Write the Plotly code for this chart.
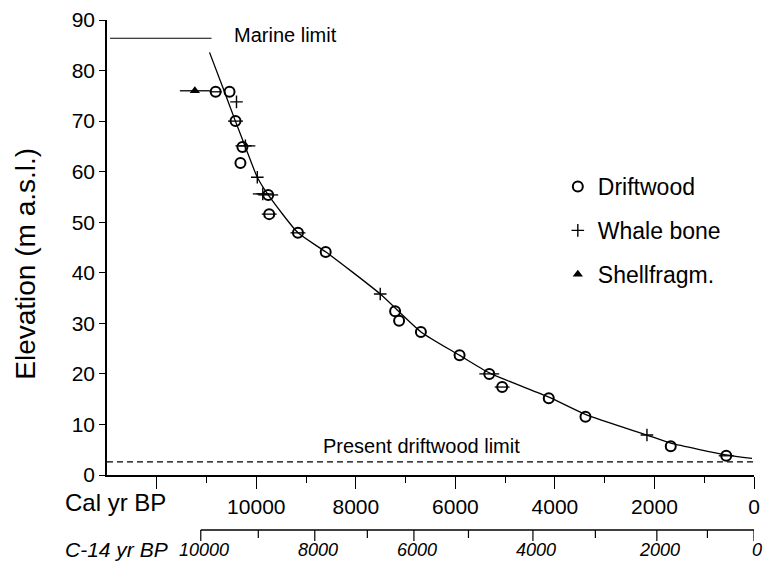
import plotly.graph_objects as go

# ---------------- data ----------------
drift_cal = [10817, 10538, 10418, 10279, 10319, 9761, 9741, 9163, 8606, 7211, 7131, 6693, 5916, 5319, 5060, 4124, 3386, 1673, 558]
drift_elev = [75.8, 75.8, 70.0, 64.9, 61.7, 55.4, 51.6, 47.9, 44.1, 32.4, 30.5, 28.3, 23.7, 20.0, 17.4, 15.2, 11.5, 5.7, 3.8]
drift_err = [120, 0, 150, 0, 0, 200, 150, 150, 0, 0, 0, 0, 0, 200, 150, 0, 0, 0, 150]

whale_cal = [10398, 10219, 9980, 9870, 7510, 2151]
whale_elev = [73.8, 65.1, 58.9, 55.6, 35.8, 7.9]
whale_err = [0, 200, 0, 200, 0, 0]

shell_cal = [11235]
shell_elev = [76.0]
shell_err = [300]

curve_cal = [10940, 10640, 10420, 10220, 9980, 9760, 9160, 8600, 7510, 6690, 5920, 5320, 4120, 3390, 2150, 1670, 560, 40]
curve_elev = [83.6, 75.8, 70.0, 64.9, 58.9, 55.4, 47.9, 44.1, 35.8, 28.3, 23.7, 20.2, 15.4, 12.0, 7.9, 6.3, 4.0, 3.3]

marine_limit_cal = [12940, 10900]
marine_limit_elev = 86.4
driftwood_limit_cal = [13000, 0]
driftwood_limit_elev = 2.6

cal_major = [12000, 10000, 8000, 6000, 4000, 2000, 0]
cal_major_text = ["", "10000", "8000", "6000", "4000", "2000", "0"]
cal_minor = [11000, 9000, 7000, 5000, 3000, 1000]
elev_ticks = [0, 10, 20, 30, 40, 50, 60, 70, 80, 90]

c14_vals = [10000, 9000, 8000, 7000, 6000, 5000, 4000, 3000, 2000, 1000, 0]
c14_at_cal = [11116, 9960, 8825, 7769, 6833, 5737, 4442, 3187, 1952, 936, 0]
c14_labelled = [10000, 8000, 6000, 4000, 2000, 0]

FONT = "Liberation Sans, Arial, Helvetica, sans-serif"

fig = go.Figure()

fig.add_trace(go.Scatter(x=curve_cal, y=curve_elev, mode="lines",
                         line=dict(color="black", width=1.3, shape="spline", smoothing=0.6),
                         showlegend=False, hoverinfo="skip"))
fig.add_trace(go.Scatter(x=marine_limit_cal, y=[marine_limit_elev] * 2, mode="lines",
                         line=dict(color="black", width=1.1), showlegend=False, hoverinfo="skip"))
fig.add_trace(go.Scatter(x=driftwood_limit_cal, y=[driftwood_limit_elev] * 2, mode="lines",
                         line=dict(color="black", width=1.1, dash="6px,4px"), showlegend=False, hoverinfo="skip"))

fig.add_trace(go.Scatter(x=drift_cal, y=drift_elev, mode="markers", name="Driftwood", legendgroup="a",
                         marker=dict(symbol="circle-open", size=10, color="black", line=dict(width=2, color="black")),
                         error_x=dict(type="data", array=drift_err, color="black", thickness=1.3, width=0)))
fig.add_trace(go.Scatter(x=whale_cal, y=whale_elev, mode="markers", name="Whale bone", legendgroup="b",
                         marker=dict(symbol="cross-thin-open", size=9, color="black", line=dict(width=1.4, color="black")),
                         error_x=dict(type="data", array=whale_err, color="black", thickness=1.3, width=0)))
fig.add_trace(go.Scatter(x=shell_cal, y=shell_elev, mode="markers", name="Shellfragm.", legendgroup="c",
                         marker=dict(symbol="triangle-up", size=9, color="black"),
                         error_x=dict(type="data", array=shell_err, color="black", thickness=1.3, width=0)))

# ---------------- C-14 secondary scale (drawn in cal-axis data coordinates) ----------------
H_PLOT = 455.0
c14_line_y = -55 / H_PLOT
shapes = [dict(type="line", xref="x", yref="paper", x0=c14_at_cal[0], x1=c14_at_cal[-1],
               y0=c14_line_y, y1=c14_line_y, line=dict(color="black", width=1.4))]
annotations = []
for v, c in zip(c14_vals, c14_at_cal):
    ln = 11 if v in c14_labelled else 8
    shapes.append(dict(type="line", xref="x", yref="paper", x0=c, x1=c,
                       y0=c14_line_y, y1=c14_line_y - ln / H_PLOT, line=dict(color="black", width=1.2)))
    if v in c14_labelled:
        annotations.append(dict(xref="x", yref="paper", x=c, y=-75 / H_PLOT, text="<i>%d</i>" % v,
                                showarrow=False, xanchor="center", yanchor="middle", xshift=3,
                                font=dict(size=18, color="black", family=FONT)))

annotations += [
    dict(xref="paper", yref="paper", x=-44 / 653, y=-27 / H_PLOT, text="Cal yr BP", showarrow=False,
         xanchor="left", yanchor="middle", font=dict(size=24, color="black", family=FONT)),
    dict(xref="paper", yref="paper", x=-44 / 653, y=-74 / H_PLOT, text="<i>C-14 yr BP</i>", showarrow=False,
         xanchor="left", yanchor="middle", font=dict(size=21, color="black", family=FONT)),
    dict(xref="paper", yref="paper", x=-83 / 653, y=211 / H_PLOT, text="Elevation (m a.s.l.)", showarrow=False,
         textangle=-90, xanchor="center", yanchor="middle", font=dict(size=28, color="black", family=FONT)),
    dict(xref="paper", yref="paper", x=126 / 653, y=440 / H_PLOT, text="Marine limit", showarrow=False,
         xanchor="left", yanchor="middle", font=dict(size=20, color="black", family=FONT)),
    dict(xref="paper", yref="paper", x=216 / 653, y=29 / H_PLOT, text="Present driftwood limit", showarrow=False,
         xanchor="left", yanchor="middle", font=dict(size=20, color="black", family=FONT)),
]

fig.update_layout(
    width=766, height=564,
    margin=dict(l=107, r=6, t=20, b=89),
    paper_bgcolor="white", plot_bgcolor="white",
    font=dict(family=FONT, color="black"),
    shapes=shapes, annotations=annotations,
    legend=dict(x=455 / 653, xanchor="left", y=310 / H_PLOT, yanchor="top",
                font=dict(size=23, color="black", family=FONT), tracegroupgap=11,
                bgcolor="rgba(0,0,0,0)", traceorder="grouped"),
    xaxis=dict(range=[13000, 0], showline=True, linecolor="black", linewidth=1.5,
               ticks="outside", ticklen=12, tickwidth=1.3, tickcolor="black",
               tickvals=cal_major, ticktext=cal_major_text, tickfont=dict(size=21),
               minor=dict(tickvals=cal_minor, ticks="outside", ticklen=6, tickwidth=1.2, tickcolor="black", showgrid=False),
               showgrid=False, zeroline=False),
    yaxis=dict(range=[0, 90], showline=True, linecolor="black", linewidth=1.5,
               ticks="outside", ticklen=6, tickwidth=1.3, tickcolor="black",
               tickvals=elev_ticks, tickfont=dict(size=21),
               showgrid=False, zeroline=False),
)

fig.write_html("out.html")
